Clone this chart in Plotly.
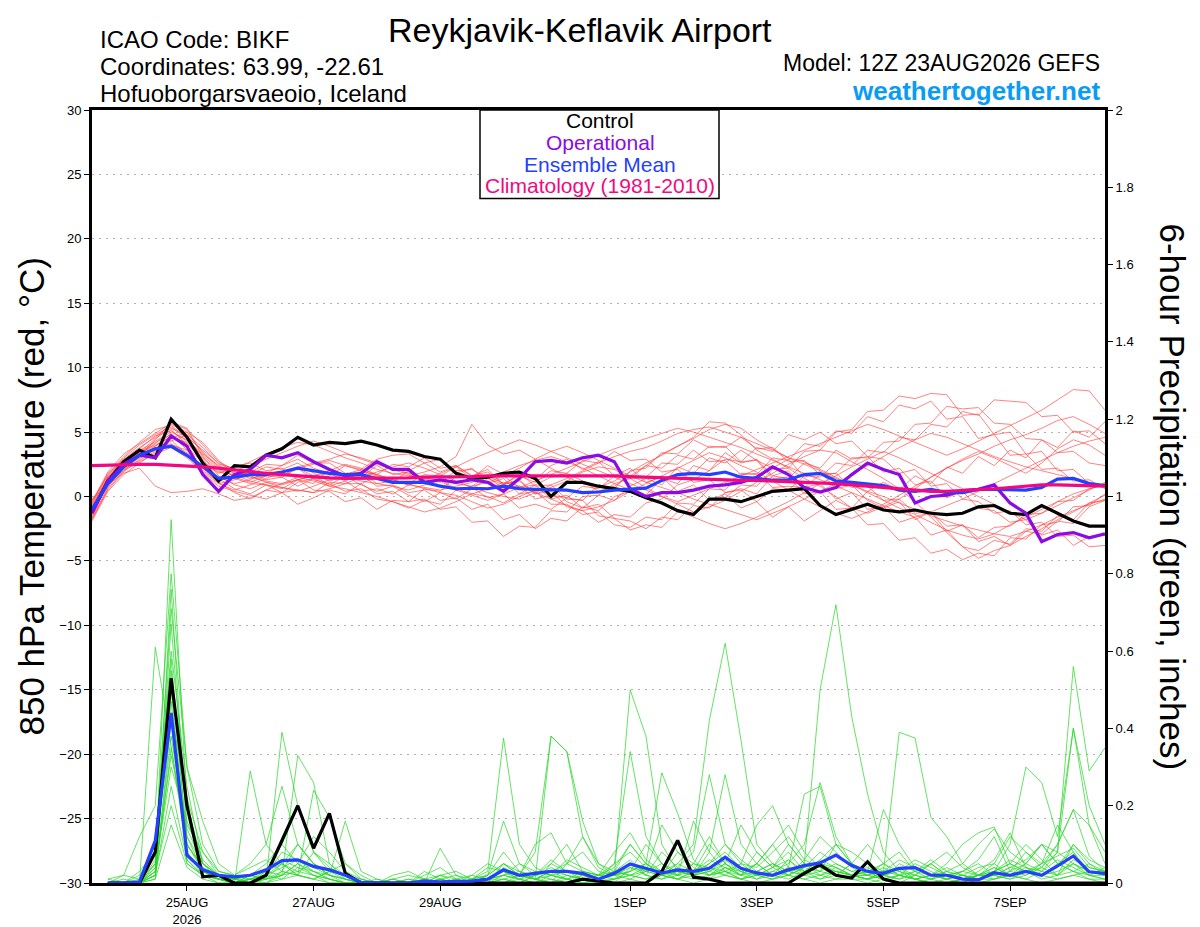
import plotly.graph_objects as go
import pandas as pd

# 6-hourly forecast times, 12Z 23 Aug 2026 -> 12Z 8 Sep 2026
times = pd.date_range("2026-08-23 12:00", periods=65, freq="6h")

tick_dates = ["2026-08-25", "2026-08-27", "2026-08-29", "2026-09-01",
              "2026-09-03", "2026-09-05", "2026-09-07"]
tick_labels = ["25AUG<br>2026", "27AUG", "29AUG", "1SEP", "3SEP", "5SEP", "7SEP"]

# 850 hPa temperature (C), f000..f384
control_temp = [-1.2, 1.2, 2.7, 3.6, 3.0, 6.0, 4.6, 2.6, 1.2, 2.4,
                2.3, 3.2, 3.7, 4.6, 4.0, 4.2, 4.1, 4.3, 4.0, 3.6,
                3.5, 3.1, 2.9, 1.8, 1.4, 1.5, 1.8, 1.9, 1.4, 0.0,
                1.1, 1.1, 0.8, 0.6, 0.4, -0.1, -0.5, -1.1, -1.4, -0.2,
                -0.2, -0.4, 0.0, 0.4, 0.5, 0.6, -0.7, -1.4, -1.0, -0.6,
                -1.05, -1.2, -1.05, -1.3, -1.4, -1.3, -0.8, -0.7, -1.3, -1.4,
                -0.7, -1.3, -1.9, -2.3, -2.3]
operational_temp = [-1.3, 1.2, 2.5, 3.2, 3.0, 4.7, 3.9, 1.7, 0.4, 1.7,
                    2.1, 3.2, 3.0, 3.4, 2.7, 2.1, 1.6, 1.8, 2.7, 2.1,
                    2.1, 1.1, 1.3, 1.1, 1.3, 1.1, 0.4, 1.4, 2.7, 2.8,
                    2.6, 3.0, 3.2, 2.7, 0.6, 0.0, 0.3, 0.3, 0.5, 0.8,
                    0.9, 1.1, 1.5, 2.3, 1.7, 0.7, 0.35, 0.7, 1.7, 2.6,
                    2.1, 1.7, -0.5, 0.0, 0.1, 0.45, 0.55, 0.9, -0.5, -1.3,
                    -3.5, -2.95, -2.8, -3.2, -2.9]
mean_temp = [-1.0, 1.0, 2.3, 3.2, 3.7, 3.9, 3.2, 2.3, 1.4, 1.5,
             1.7, 1.7, 1.9, 2.2, 2.0, 1.8, 1.7, 1.7, 1.4, 1.1,
             1.1, 1.1, 0.8, 0.6, 0.64, 0.6, 0.8, 0.6, 0.55, 0.5,
             0.5, 0.3, 0.35, 0.5, 0.6, 0.65, 1.25, 1.7, 1.8, 1.7,
             1.9, 1.5, 1.4, 1.25, 1.3, 1.7, 1.8, 1.2, 1.1, 1.0,
             0.85, 0.5, 0.4, 0.55, 0.3, 0.3, 0.55, 0.55, 0.5, 0.5,
             0.7, 1.35, 1.4, 1.0, 0.85]
clim_temp = [2.4, 2.45, 2.5, 2.5, 2.5, 2.45, 2.4, 2.3, 2.2, 2.05,
             1.9, 1.8, 1.7, 1.6, 1.5, 1.45, 1.4, 1.4, 1.4, 1.45,
             1.45, 1.5, 1.5, 1.55, 1.55, 1.6, 1.6, 1.65, 1.65, 1.65,
             1.65, 1.65, 1.6, 1.6, 1.55, 1.5, 1.45, 1.4, 1.35, 1.3,
             1.3, 1.25, 1.25, 1.2, 1.2, 1.15, 1.1, 1.0, 0.9, 0.8,
             0.7, 0.55, 0.45, 0.4, 0.4, 0.45, 0.5, 0.6, 0.7, 0.8,
             0.9, 0.9, 0.85, 0.8, 0.8]

member_temp = [
    [-1.5, 1.0, 2.4, 3.3, 4.1, 5.2, 4.0, 2.0, 1.2, 1.6, 2.0, 1.8, 2.4, 2.9, 2.2, 1.8, 1.5, 1.2, 1.0, 0.8,
     0.5, 0.9, 1.3, 0.6, 0.2, 0.0, -0.5, 0.2, 0.9, 1.5, 1.8, 1.2, 0.4, 0.8, 1.6, 2.4, 3.3, 3.9, 4.6, 5.8,
     5.7, 4.8, 3.6, 2.9, 2.2, 1.4, 0.8, 0.0, -0.9, -1.3, -0.8, -0.2, 0.6, 1.5, 2.2, 2.9, 3.5, 3.0, 2.4, 1.8,
     2.6, 3.7, 4.4, 4.0, 3.2],
    [-0.8, 1.5, 2.9, 3.8, 4.6, 5.6, 5.0, 3.4, 2.2, 1.9, 1.5, 1.2, 1.0, 1.3, 1.6, 2.0, 2.5, 2.2, 1.7, 1.3,
     1.0, 0.6, 0.3, 0.1, -0.4, -0.9, -0.6, 0.0, 0.5, 0.7, 1.2, 1.9, 2.3, 2.1, 1.4, 0.7, 0.0, -0.6, -1.2, -0.8,
     -0.3, 0.4, 1.1, 1.8, 2.5, 3.1, 3.6, 3.4, 2.7, 2.1, 1.4, 0.6, -0.4, -1.6, -2.8, -3.9, -4.8, -4.2, -3.8, -3.1,
     -2.5, -1.8, -1.2, -0.5, 0.1],
    [-1.2, 0.8, 2.2, 3.0, 3.6, 4.3, 4.8, 3.8, 2.5, 2.2, 2.7, 3.3, 3.8, 4.2, 4.0, 3.5, 3.0, 2.6, 2.1, 1.8,
     1.6, 1.9, 2.3, 3.1, 5.6, 4.0, 3.3, 3.6, 2.9, 2.2, 1.5, 1.0, 0.7, 1.2, 1.9, 2.6, 3.2, 3.9, 4.5, 5.2,
     5.6, 5.3, 4.4, 3.7, 3.0, 2.7, 2.1, 1.5, 0.9, 0.3, -0.3, -0.9, -1.4, -2.0, -2.6, -3.0, -3.3, -2.9, -2.2, -1.6,
     -1.0, -0.4, 0.2, 0.6, 1.0],
    [-0.2, 0.9, 1.8, 2.2, 0.8, 0.3, 0.4, 0.6, 0.2, -0.3, -0.1, 0.5, 1.0, 1.5, 1.2, 0.8, 0.6, 0.3, 0.0, -0.4,
     -0.8, -1.2, -0.9, -0.4, 0.2, 0.6, 1.1, 0.8, 0.3, -0.2, -0.7, -1.1, -0.8, -0.3, 0.4, 1.0, 1.6, 2.2, 2.8, 3.4,
     3.0, 2.4, 1.9, 1.2, 0.5, -0.2, -0.8, -1.3, -1.7, -1.2, -0.6, 0.1, 0.8, 1.5, 2.2, 2.8, 3.3, 3.9, 4.4, 4.8,
     5.3, 5.9, 6.2, 5.6, 4.9],
    [-1.8, 0.6, 2.0, 3.1, 4.4, 5.8, 5.3, 3.1, 1.6, 0.9, 0.6, 1.1, 0.9, 1.3, 0.5, 0.4, -0.4, -0.1, -1.0, -0.3,
     -0.4, 0.6, 0.4, 1.6, 1.4, 2.4, 1.7, 1.8, 0.8, 0.9, -0.2, -0.3, -1.5, -1.7, -2.6, -2.2, -2.4, -1.2, -1.3, -0.2,
     -0.1, 0.9, 0.8, 2.1, 2.2, 3.5, 3.6, 5.0, 5.2, 6.6, 6.7, 7.8, 7.6, 8.0, 7.9, 6.3, 6.4, 4.8, 5.0, 3.3,
     3.5, 2.0, 2.1, 1.0, 0.9],
    [-1.0, 1.3, 2.6, 3.5, 4.0, 4.6, 4.2, 2.7, 1.8, 2.3, 2.6, 2.0, 2.2, 1.3, 1.6, 0.9, 1.6, 1.5, 2.4, 1.7,
     1.9, 1.1, 1.2, 0.5, 0.7, -0.1, 0.2, -0.9, -0.6, -1.0, -0.1, -0.3, 0.9, 0.6, 2.0, 2.2, 3.4, 3.3, 4.4, 3.8,
     3.9, 2.7, 2.8, 1.4, 1.5, 0.2, 0.4, -1.0, -0.9, -2.2, -2.1, -3.4, -3.2, -4.4, -4.1, -4.9, -4.4, -4.6, -3.2, -3.3,
     -2.2, -2.0, -0.8, -0.7, 0.2],
    [-0.5, 1.8, 2.8, 3.4, 3.9, 4.9, 3.6, 2.2, 1.0, 0.5, 0.9, 1.4, 1.9, 2.3, 2.6, 2.9, 3.3, 3.0, 2.6, 2.2,
     1.8, 1.5, 1.2, 1.0, 0.8, 1.1, 1.6, 2.2, 2.9, 3.5, 3.9, 3.4, 2.8, 2.2, 1.6, 1.1, 0.7, 0.3, -0.2, -0.6,
     -1.0, -1.4, -1.8, -1.3, -0.8, -0.2, 0.4, 1.0, 1.7, 2.4, 3.1, 3.8, 4.4, 4.9, 4.6, 4.1, 3.6, 3.1, 2.7, 2.3,
     2.0, 1.7, 1.4, 1.1, 0.8],
    [-1.4, 0.9, 2.1, 2.8, 3.5, 4.5, 5.0, 4.2, 2.8, 1.7, 1.2, 0.9, 0.7, 0.5, 0.3, 0.6, 1.0, 1.5, 1.9, 2.3,
     2.6, 2.2, 1.7, 1.2, 0.7, 0.3, 0.0, -0.2, 0.3, 0.9, 1.4, 2.0, 2.6, 3.1, 3.5, 3.8, 4.3, 4.9, 5.2, 5.4,
     5.0, 4.6, 4.1, 3.6, 3.0, 2.5, 2.0, 1.4, 0.9, 0.4, 0.0, -0.5, -1.0, -1.5, -1.9, -2.3, -2.6, -2.9, -3.1, -2.7,
     -2.2, -1.6, -1.1, -0.6, -0.2],
    [-0.3, 1.6, 3.0, 4.0, 4.8, 5.4, 4.5, 3.0, 2.0, 1.4, 1.0, 0.9, 0.3, 0.5, 0.3, 1.1, 1.0, 1.0, 0.2, 0.4,
     -0.4, -0.2, -1.0, -0.8, -2.0, -1.9, -3.1, -2.3, -2.4, -1.1, -1.2, 0.0, 0.1, 1.0, 1.4, 1.5, 2.6, 2.5, 3.6, 2.7,
     2.8, 1.7, 1.8, 0.7, 0.8, 0.7, 1.7, 1.8, 3.0, 3.0, 4.2, 4.3, 5.6, 5.7, 7.0, 6.8, 6.9, 5.7, 5.6, 4.5,
     4.4, 3.4, 3.5, 2.6, 2.4],
    [-1.1, 1.2, 2.5, 3.2, 3.8, 4.1, 3.4, 2.4, 1.5, 1.0, 1.3, 1.9, 1.6, 2.2, 1.3, 1.0, 0.4, 0.6, -0.2, -0.4,
     -0.9, -0.3, -0.6, 0.5, 0.8, 1.6, 1.0, 1.2, 0.2, 0.4, -0.8, -1.1, -2.0, -1.4, -1.6, -0.5, -0.2, 0.9, 1.3, 2.0,
     2.9, 2.7, 3.8, 3.5, 4.8, 4.4, 5.0, 4.1, 4.3, 3.1, 2.9, 1.8, 2.1, 0.8, 1.0, -0.2, -0.4, -1.3, -1.1, -2.2,
     -2.0, -3.1, -3.0, -3.9, -3.8],
    [-1.6, 0.7, 2.3, 3.3, 4.3, 5.0, 4.4, 3.3, 2.4, 1.8, 1.4, 1.6, 1.9, 2.2, 2.5, 2.8, 2.4, 2.0, 1.6, 1.2,
     0.9, 0.7, 0.5, 0.8, 1.1, 1.5, 1.9, 2.4, 2.8, 3.1, 2.7, 2.2, 1.6, 1.0, 0.5, 0.0, -0.5, -1.1, -1.6, -2.1,
     -2.5, -2.1, -1.6, -1.0, -0.4, 0.3, 1.0, 1.6, 2.3, 2.9, 3.5, 3.0, 2.4, 1.8, 1.2, 0.6, 0.0, -0.6, -1.2, -1.8,
     -1.3, -0.7, -0.1, 0.5, 1.1],
    [-0.9, 1.4, 2.7, 3.6, 4.2, 4.8, 3.9, 2.6, 1.9, 1.7, 1.8, 1.3, 1.5, 0.8, 1.4, 1.6, 2.4, 2.1, 2.9, 3.2,
     3.3, 2.6, 2.9, 1.8, 2.2, 1.0, 1.4, 0.2, 0.4, -0.6, -0.6, -1.4, -1.2, -2.2, -2.4, -1.6, -1.8, -0.5, -0.6, 0.6,
     0.5, 1.8, 1.7, 3.0, 2.8, 4.1, 3.9, 5.1, 4.9, 6.2, 5.8, 7.1, 6.8, 7.4, 6.0, 6.2, 4.5, 4.8, 3.2, 3.3,
     2.1, 2.2, 1.2, 1.3, 0.6],
    [-1.3, 1.1, 2.2, 3.1, 3.7, 4.4, 3.2, 1.8, 0.8, 0.4, 0.1, -0.2, 0.3, -0.6, -0.1, 0.5, 0.2, 1.0, 1.5, 1.1,
     2.0, 2.6, 1.9, 2.4, 1.6, 2.1, 0.9, 1.3, 0.2, 0.6, -0.4, -0.9, 0.1, -0.3, 0.8, 1.4, 0.9, 2.3, 1.8, 3.0,
     2.6, 3.6, 2.8, 2.2, 2.9, 1.5, 1.9, 0.6, 0.9, -0.3, -0.9, -0.4, -1.8, -1.2, -2.7, -2.2, -3.5, -3.1, -3.8, -2.7,
     -2.9, -1.9, -2.1, -0.8, -0.3],
    [-0.6, 1.7, 3.1, 4.2, 5.2, 5.5, 4.6, 3.6, 2.6, 2.0, 2.4, 2.9, 3.4, 3.9, 4.3, 3.9, 3.4, 2.9, 2.5, 2.1,
     1.7, 1.3, 0.9, 0.5, 0.1, -0.3, 0.2, 0.7, 1.2, 1.7, 2.2, 2.7, 3.2, 3.7, 4.1, 4.5, 4.9, 5.3, 5.0, 4.6,
     4.2, 3.8, 3.3, 2.8, 2.3, 1.8, 1.3, 0.8, 0.3, -0.2, -0.7, -1.2, -1.6, -1.2, -0.7, -0.2, 0.4, 1.0, 1.6, 2.2,
     2.8, 3.4, 3.9, 4.3, 4.6],
    [-1.7, 0.5, 1.9, 2.9, 3.9, 4.7, 4.1, 2.9, 1.4, 0.6, 0.2, 0.9, 0.6, 1.3, 1.0, 2.1, 1.5, 1.7, 0.8, 0.9,
     0.3, 0.5, -0.3, -0.1, -1.0, -0.6, -1.8, -1.4, -2.5, -1.7, -1.9, -0.8, -1.1, 0.0, 0.4, 0.1, 1.4, 1.0, 2.4, 2.0,
     3.4, 2.6, 2.9, 1.6, 2.0, 0.7, 1.0, -0.2, 0.3, -1.0, -0.8, -2.0, -1.6, -3.0, -2.6, -3.9, -4.2, -3.4, -3.7, -2.5,
     -2.7, -1.5, -1.8, -0.5, -0.3],
    [-0.4, 1.9, 3.3, 4.1, 4.9, 5.7, 5.2, 4.0, 2.7, 2.1, 1.6, 1.1, 0.7, 0.4, 0.8, 1.3, 1.7, 2.1, 1.7, 1.3,
     0.9, 1.3, 1.8, 2.3, 2.9, 3.4, 3.9, 4.4, 4.0, 3.5, 3.0, 2.5, 2.0, 1.5, 1.0, 0.5, 0.0, -0.4, 0.1, 0.6,
     1.1, 1.6, 2.1, 2.6, 3.1, 3.6, 4.1, 4.6, 5.1, 5.6, 5.2, 4.7, 4.2, 3.7, 3.2, 3.7, 4.3, 4.9, 5.5, 6.1,
     6.7, 7.5, 8.3, 8.2, 6.7],
    [-1.9, 0.4, 1.7, 2.6, 3.4, 4.0, 3.6, 2.3, 1.1, 0.3, -0.2, 0.5, 0.3, 1.1, 1.4, 0.8, 1.2, 0.4, 0.6, 0.2,
     0.9, 1.4, 1.1, 2.0, 2.1, 1.4, 1.6, 0.7, 0.9, -0.2, 0.1, -0.9, -0.6, -1.7, -1.9, -2.5, -1.6, -1.8, -0.7, -0.9,
     0.3, 0.6, 0.2, 1.6, 1.4, 2.6, 2.2, 3.6, 2.9, 3.1, 1.9, 2.2, 0.9, 1.2, -0.1, 0.4, -0.9, -1.1, -2.0, -1.8,
     -3.0, -2.6, -3.8, -3.1, -3.0],
    [-1.0, 1.2, 2.5, 3.4, 4.5, 5.3, 4.7, 3.5, 2.3, 1.5, 1.1, 1.6, 1.5, 2.2, 1.6, 1.8, 1.2, 1.9, 1.7, 2.5,
     2.3, 3.0, 2.2, 2.4, 1.6, 1.9, 1.0, 1.6, 1.1, 2.0, 1.8, 2.8, 2.6, 3.5, 2.8, 2.9, 1.9, 2.1, 1.1, 1.3,
     0.3, 0.5, -0.4, 0.6, 0.5, 1.6, 1.5, 2.6, 2.4, 3.6, 3.4, 4.6, 4.4, 5.6, 5.4, 6.6, 6.3, 7.5, 7.4, 7.3,
     6.2, 6.3, 5.0, 5.1, 4.1],
    [-1.3, 0.9, 2.0, 2.7, 3.3, 3.8, 3.0, 1.9, 1.0, 1.3, 1.7, 2.3, 2.1, 2.6, 1.8, 1.2, 1.6, 0.9, 0.4, 0.8,
     0.1, -0.4, 0.3, -0.2, 0.6, 1.4, 0.9, 1.8, 1.3, 2.4, 2.9, 2.1, 2.7, 1.6, 2.2, 1.1, 1.5, 0.4, 0.9, -0.3,
     0.2, -0.9, -0.4, -1.6, -0.8, -1.9, -1.1, -0.3, -0.9, 0.4, 1.1, 0.5, 1.6, 1.0, 2.3, 1.8, 3.1, 2.4, 3.6, 3.0,
     4.4, 3.8, 5.1, 4.6, 5.8],
    [-0.7, 1.5, 2.7, 3.7, 4.7, 5.1, 4.3, 3.2, 2.1, 1.6, 1.9, 2.5, 2.4, 3.2, 2.6, 2.6, 1.8, 1.9, 1.0, 1.2,
     1.0, 1.7, 1.6, 2.3, 1.4, 1.5, 0.6, 0.8, -0.2, 0.1, -0.1, 0.8, 0.6, 1.6, 1.4, 2.4, 2.2, 3.2, 2.9, 3.9,
     3.8, 4.6, 3.7, 3.8, 2.7, 2.8, 1.7, 1.8, 0.7, 0.8, -0.3, -0.2, -1.3, -1.2, -2.3, -2.2, -3.2, -2.4, -2.3, -1.4,
     -1.3, -0.4, -0.3, 0.6, 0.9],
]

# 6-hour precipitation (inches), f006..f384
control_precip = [0, 0, 0, 0.08, 0.53, 0.2, 0.016, 0.02,
                  0, 0, 0.02, 0.11, 0.2, 0.09, 0.18, 0.025,
                  0, 0, 0, 0, 0, 0, 0, 0,
                  0, 0, 0, 0, 0, 0, 0.01, 0.005,
                  0, 0, 0, 0.03, 0.11, 0.015, 0.01, 0,
                  0, 0, 0, 0, 0.025, 0.047, 0.02, 0.013,
                  0.055, 0.01, 0, 0, 0, 0, 0, 0,
                  0, 0, 0, 0, 0, 0, 0, 0]
mean_precip = [0, 0, 0.003, 0.11, 0.44, 0.072, 0.034, 0.02,
               0.016, 0.02, 0.034, 0.058, 0.06, 0.043, 0.034, 0.02,
               0.002, 0, 0, 0, 0.005, 0.003, 0.003, 0.005,
               0.01, 0.034, 0.02, 0.025, 0.03, 0.03, 0.025, 0.01,
               0.025, 0.049, 0.038, 0.026, 0.034, 0.03, 0.038, 0.067,
               0.038, 0.026, 0.02, 0.034, 0.045, 0.052, 0.072, 0.045,
               0.03, 0.025, 0.038, 0.04, 0.02, 0.02, 0.01, 0.008,
               0.027, 0.02, 0.03, 0.02, 0.044, 0.07, 0.029, 0.025]

member_precip = [
    [0, 0, 0.01, 0.05, 0.94, 0.2, 0.05, 0.02, 0.01, 0, 0.03, 0.1, 0.05, 0.02, 0, 0,
     0, 0, 0, 0, 0.01, 0, 0, 0, 0.02, 0.08, 0.03, 0.01, 0, 0.05, 0.12, 0.04,
     0.02, 0.5, 0.38, 0.1, 0.03, 0.02, 0.01, 0.04, 0.02, 0.05, 0.1, 0.04, 0.02, 0.01, 0.03, 0.02,
     0.01, 0, 0.02, 0.01, 0, 0, 0.01, 0.02, 0.05, 0.12, 0.08, 0.04, 0.1, 0.19, 0.07, 0.03],
    [0, 0, 0, 0.61, 0.35, 0.1, 0.04, 0.01, 0, 0.02, 0.01, 0.39, 0.2, 0.08, 0.03, 0.01,
     0, 0, 0, 0, 0, 0.01, 0.02, 0.01, 0.03, 0.375, 0.1, 0.04, 0.02, 0.01, 0, 0.01,
     0.03, 0.1, 0.05, 0.285, 0.18, 0.06, 0.02, 0.03, 0.01, 0.02, 0.04, 0.08, 0.03, 0.01, 0.02, 0.05,
     0.03, 0.01, 0, 0.02, 0.05, 0.02, 0.01, 0.01, 0.02, 0.04, 0.03, 0.01, 0.02, 0.05, 0.03, 0.02],
    [0, 0.02, 0.12, 0.2, 0.8, 0.3, 0.16, 0.05, 0.02, 0.01, 0, 0.02, 0.33, 0.26, 0.05, 0.01,
     0, 0, 0.01, 0, 0, 0.02, 0.01, 0, 0, 0.05, 0.02, 0.01, 0.38, 0.34, 0.16, 0.05,
     0.03, 0.02, 0.04, 0.03, 0.05, 0.1, 0.42, 0.62, 0.37, 0.1, 0.05, 0.03, 0.02, 0.06, 0.1, 0.05,
     0.02, 0.01, 0, 0, 0.01, 0.03, 0.05, 0.1, 0.14, 0.08, 0.05, 0.1, 0.05, 0.03, 0.05, 0.02],
    [0, 0, 0, 0.02, 0.76, 0.12, 0.03, 0.01, 0, 0.29, 0.1, 0.05, 0.02, 0.24, 0.17, 0.05,
     0.01, 0, 0, 0, 0.03, 0.01, 0, 0.01, 0.02, 0.16, 0.05, 0.02, 0.06, 0.03, 0.02, 0.01,
     0.05, 0.34, 0.12, 0.05, 0.03, 0.02, 0.08, 0.28, 0.1, 0.05, 0.02, 0.04, 0.23, 0.25, 0.1, 0.05,
     0.03, 0.19, 0.1, 0.04, 0.02, 0.01, 0.02, 0.01, 0.03, 0.1, 0.3, 0.26, 0.12, 0.4, 0.15, 0.05],
    [0, 0, 0.03, 0.08, 0.71, 0.3, 0.1, 0.03, 0.02, 0.05, 0.1, 0.25, 0.1, 0.05, 0.02, 0.16,
     0.03, 0.01, 0, 0, 0, 0.09, 0.02, 0, 0.01, 0.02, 0.01, 0, 0.05, 0.1, 0.03, 0.02,
     0.01, 0.03, 0.05, 0.02, 0.01, 0.03, 0.1, 0.05, 0.15, 0.08, 0.04, 0.1, 0.05, 0.5, 0.72, 0.43,
     0.23, 0.08, 0.03, 0.01, 0.02, 0.01, 0, 0.02, 0.04, 0.02, 0.05, 0.03, 0.08, 0.56, 0.29, 0.35],
    [0, 0, 0, 0.03, 0.67, 0.15, 0.08, 0.02, 0.01, 0.02, 0.05, 0.1, 0.2, 0.08, 0.04, 0.02,
     0, 0, 0.01, 0.02, 0.01, 0, 0, 0.02, 0.05, 0.03, 0.02, 0.01, 0.03, 0.05, 0.08, 0.03,
     0.02, 0.05, 0.03, 0.02, 0.08, 0.05, 0.03, 0.02, 0.05, 0.15, 0.2, 0.1, 0.05, 0.03, 0.1, 0.08,
     0.05, 0.03, 0.39, 0.375, 0.17, 0.12, 0.05, 0.02, 0.01, 0.03, 0.05, 0.1, 0.08, 0.4, 0.2, 0.1],
    [0.01, 0.02, 0.01, 0.1, 0.6, 0.25, 0.05, 0.02, 0.01, 0, 0.02, 0.05, 0.03, 0.02, 0.01, 0,
     0, 0.01, 0, 0.01, 0, 0.02, 0.03, 0.01, 0, 0.04, 0.02, 0.08, 0.38, 0.34, 0.12, 0.05,
     0.02, 0.03, 0.1, 0.05, 0.02, 0.16, 0.08, 0.03, 0.02, 0.05, 0.1, 0.15, 0.08, 0.04, 0.02, 0.05,
     0.1, 0.05, 0.03, 0.02, 0.05, 0.08, 0.04, 0.02, 0.02, 0.01, 0.03, 0.05, 0.1, 0.19, 0.15, 0.08],
    [0, 0, 0, 0.02, 0.55, 0.1, 0.03, 0.01, 0, 0.01, 0.01, 0.02, 0.05, 0.12, 0.08, 0.03,
     0.01, 0, 0, 0, 0.01, 0, 0, 0, 0.01, 0.03, 0.01, 0, 0.02, 0.01, 0.03, 0.02,
     0.04, 0.1, 0.05, 0.02, 0.04, 0.08, 0.28, 0.1, 0.05, 0.02, 0.03, 0.05, 0.1, 0.26, 0.12, 0.05,
     0.03, 0.02, 0.04, 0.01, 0.02, 0.05, 0.1, 0.13, 0.145, 0.05, 0.03, 0.02, 0.04, 0.1, 0.05, 0.03],
    [0, 0, 0, 0.05, 0.5, 0.08, 0.02, 0.01, 0, 0.02, 0.03, 0.05, 0.02, 0.01, 0.03, 0.05,
     0.02, 0, 0, 0, 0, 0.01, 0, 0, 0, 0.01, 0, 0.02, 0.01, 0, 0.02, 0.01,
     0.01, 0.02, 0.03, 0.15, 0.08, 0.04, 0.02, 0.05, 0.03, 0.02, 0.04, 0.06, 0.02, 0.03, 0.05, 0.03,
     0.02, 0.01, 0.05, 0.03, 0.02, 0.01, 0.03, 0.06, 0.12, 0.03, 0.02, 0.05, 0.15, 0.08, 0.02, 0.01],
    [0, 0.01, 0, 0.05, 0.47, 0.05, 0.02, 0.01, 0.01, 0, 0, 0.03, 0.1, 0.05, 0.03, 0.02,
     0, 0, 0, 0, 0, 0, 0.01, 0.02, 0.01, 0.02, 0.03, 0.01, 0.02, 0.03, 0.01, 0,
     0, 0.04, 0.02, 0.01, 0.02, 0.05, 0.12, 0.05, 0.02, 0.08, 0.04, 0.02, 0.06, 0.12, 0.08, 0.04,
     0.02, 0.05, 0.08, 0.03, 0.01, 0.02, 0.01, 0.03, 0.06, 0.13, 0.04, 0.02, 0.05, 0.08, 0.03, 0.02],
    [0, 0, 0, 0.01, 0.42, 0.06, 0.02, 0, 0, 0.01, 0.02, 0.01, 0.04, 0.02, 0.01, 0,
     0, 0, 0.01, 0, 0, 0, 0, 0.01, 0.02, 0.05, 0.02, 0.01, 0.03, 0.01, 0, 0.01,
     0.03, 0.06, 0.02, 0.01, 0.03, 0.02, 0.05, 0.08, 0.04, 0.02, 0.01, 0.03, 0.05, 0.02, 0.03, 0.02,
     0.01, 0.02, 0.01, 0.03, 0.05, 0.02, 0.01, 0.02, 0.03, 0.05, 0.1, 0.06, 0.02, 0.1, 0.06, 0.04],
    [0, 0, 0, 0.03, 0.38, 0.12, 0.05, 0.02, 0.01, 0.01, 0.02, 0.08, 0.06, 0.04, 0.02, 0.01,
     0, 0, 0, 0, 0, 0.01, 0, 0, 0, 0.02, 0.05, 0.03, 0.02, 0.06, 0.04, 0.02,
     0.02, 0.03, 0.05, 0.03, 0.01, 0.02, 0.03, 0.06, 0.03, 0.01, 0.02, 0.06, 0.03, 0.05, 0.04, 0.02,
     0.03, 0.05, 0.02, 0.01, 0.02, 0.04, 0.02, 0.01, 0.02, 0.03, 0.08, 0.05, 0.07, 0.09, 0.04, 0.03],
    [0, 0, 0, 0.02, 0.35, 0.08, 0.03, 0.01, 0, 0, 0.01, 0.02, 0.03, 0.05, 0.02, 0,
     0, 0, 0, 0.01, 0, 0, 0, 0, 0, 0.01, 0.02, 0.01, 0, 0.02, 0.01, 0,
     0.01, 0.05, 0.02, 0.08, 0.04, 0.02, 0.03, 0.05, 0.02, 0.01, 0.03, 0.02, 0.01, 0.02, 0.04, 0.02,
     0.01, 0.03, 0.02, 0.05, 0.03, 0.01, 0.02, 0.01, 0.03, 0.06, 0.04, 0.02, 0.03, 0.05, 0.02, 0.02],
    [0.01, 0, 0, 0.04, 0.3, 0.16, 0.06, 0.02, 0.01, 0.02, 0.01, 0.05, 0.1, 0.05, 0.02, 0.01,
     0, 0, 0, 0, 0.01, 0.02, 0, 0, 0.01, 0.02, 0.01, 0.03, 0.02, 0.01, 0.02, 0.01,
     0.02, 0.01, 0.03, 0.02, 0.05, 0.03, 0.02, 0.04, 0.02, 0.03, 0.05, 0.03, 0.02, 0.05, 0.03, 0.02,
     0.02, 0.03, 0.06, 0.04, 0.02, 0.03, 0.01, 0.02, 0.04, 0.02, 0.01, 0.03, 0.06, 0.04, 0.02, 0.01],
    [0, 0, 0, 0.02, 0.25, 0.06, 0.02, 0.01, 0, 0.01, 0.03, 0.02, 0.05, 0.03, 0.01, 0,
     0, 0, 0, 0, 0, 0, 0.01, 0, 0, 0, 0.02, 0.01, 0, 0.01, 0, 0,
     0.01, 0.02, 0.01, 0.03, 0.02, 0.01, 0.02, 0.03, 0.01, 0.02, 0.01, 0.02, 0.04, 0.03, 0.02, 0.01,
     0.01, 0.02, 0.01, 0.02, 0.01, 0, 0.01, 0.02, 0.02, 0.01, 0.02, 0.04, 0.02, 0.03, 0.01, 0.01],
    [0, 0, 0, 0.03, 0.2, 0.05, 0.02, 0.01, 0, 0, 0.01, 0.03, 0.02, 0.01, 0.03, 0.02,
     0.01, 0, 0, 0, 0, 0, 0, 0, 0.01, 0.01, 0, 0.02, 0.03, 0.02, 0.01, 0.02,
     0.03, 0.02, 0.01, 0.02, 0.03, 0.02, 0.04, 0.02, 0.01, 0.03, 0.02, 0.01, 0.03, 0.02, 0.01, 0.02,
     0.03, 0.01, 0.02, 0.01, 0, 0.01, 0.02, 0.01, 0.01, 0.02, 0.03, 0.02, 0.01, 0.02, 0.03, 0.02],
    [0, 0, 0.02, 0.08, 0.58, 0.1, 0.04, 0.02, 0.01, 0.02, 0.03, 0.06, 0.04, 0.03, 0.02, 0.01,
     0, 0, 0.02, 0.03, 0.01, 0, 0, 0.01, 0.04, 0.03, 0.02, 0.1, 0.13, 0.05, 0.03, 0.02,
     0.05, 0.08, 0.04, 0.02, 0.01, 0.03, 0.05, 0.1, 0.06, 0.03, 0.05, 0.02, 0.04, 0.08, 0.05, 0.03,
     0.04, 0.02, 0.03, 0.06, 0.04, 0.02, 0.03, 0.05, 0.02, 0.04, 0.06, 0.1, 0.05, 0.03, 0.02, 0.04],
    [0, 0, 0, 0.06, 0.44, 0.22, 0.08, 0.03, 0.02, 0.04, 0.06, 0.03, 0.02, 0.08, 0.05, 0.02,
     0, 0, 0, 0, 0.02, 0.04, 0.01, 0, 0.02, 0.05, 0.03, 0.02, 0.04, 0.02, 0.01, 0.02,
     0.08, 0.13, 0.06, 0.03, 0.02, 0.05, 0.04, 0.03, 0.05, 0.04, 0.08, 0.12, 0.06, 0.04, 0.03, 0.02,
     0.02, 0.04, 0.02, 0.03, 0.06, 0.03, 0.02, 0.04, 0.05, 0.02, 0.04, 0.03, 0.02, 0.06, 0.04, 0.03],
    [0, 0, 0, 0.04, 0.33, 0.14, 0.05, 0.01, 0, 0.01, 0.02, 0.04, 0.06, 0.03, 0.01, 0,
     0, 0, 0, 0, 0, 0.01, 0, 0, 0.01, 0.03, 0.01, 0.02, 0.05, 0.03, 0.02, 0.01,
     0.02, 0.04, 0.03, 0.05, 0.02, 0.03, 0.06, 0.04, 0.03, 0.05, 0.02, 0.04, 0.03, 0.06, 0.04, 0.02,
     0.01, 0.03, 0.04, 0.02, 0.01, 0.02, 0.03, 0.02, 0.03, 0.05, 0.03, 0.04, 0.08, 0.05, 0.03, 0.02],
    [0, 0, 0, 0.01, 0.15, 0.04, 0.01, 0, 0, 0, 0, 0.01, 0.02, 0.01, 0, 0,
     0, 0, 0, 0, 0, 0, 0, 0, 0, 0, 0.01, 0, 0.01, 0, 0, 0,
     0, 0.01, 0, 0.02, 0.01, 0, 0.01, 0.02, 0.01, 0, 0.01, 0.02, 0.01, 0, 0.01, 0.01,
     0, 0.01, 0.02, 0.01, 0, 0, 0.01, 0, 0.01, 0.02, 0.01, 0, 0.01, 0.02, 0.01, 0],
]

FONT = "Liberation Sans"
C_CONTROL = "black"
C_OPER = "#8a0be3"
C_MEAN = "#2340ff"
C_CLIM = "#f2097f"

fig = go.Figure()

# precipitation ensemble (green, right axis)
for m in member_precip:
    fig.add_trace(go.Scatter(x=times[1:1 + len(m)], y=m, yaxis="y2", mode="lines",
                             line=dict(color="rgba(40,215,40,0.9)", width=0.8),
                             hoverinfo="skip", showlegend=False))
fig.add_trace(go.Scatter(x=times[1:1 + len(control_precip)], y=control_precip, yaxis="y2",
                         mode="lines", line=dict(color=C_CONTROL, width=3.2), showlegend=False))
fig.add_trace(go.Scatter(x=times[1:1 + len(mean_precip)], y=mean_precip, yaxis="y2",
                         mode="lines", line=dict(color=C_MEAN, width=3.2), showlegend=False))

# temperature ensemble (red, left axis)
for m in member_temp:
    fig.add_trace(go.Scatter(x=times[:len(m)], y=m, mode="lines",
                             line=dict(color="rgba(255,60,60,0.8)", width=0.8),
                             hoverinfo="skip", showlegend=False))
fig.add_trace(go.Scatter(x=times[:len(control_temp)], y=control_temp, mode="lines",
                         line=dict(color=C_CONTROL, width=3.2), showlegend=False))
fig.add_trace(go.Scatter(x=times[:len(operational_temp)], y=operational_temp, mode="lines",
                         line=dict(color=C_OPER, width=3.2), showlegend=False))
fig.add_trace(go.Scatter(x=times[:len(mean_temp)], y=mean_temp, mode="lines",
                         line=dict(color=C_MEAN, width=3.2), showlegend=False))
fig.add_trace(go.Scatter(x=times[:len(clim_temp)], y=clim_temp, mode="lines",
                         line=dict(color=C_CLIM, width=3.2), showlegend=False))

# plot area on the page in pixels: x 92..1105, y 110..883
def px(x):
    return (x - 92) / 1013.0

def py(y):
    return (883 - y) / 773.0

notes = [
    ("ICAO Code: BIKF", 98, 40, "left", 24, "black", False),
    ("Coordinates: 63.99, -22.61", 98, 67, "left", 24, "black", False),
    ("Hofuoborgarsvaeoio, Iceland", 98, 94, "left", 24, "black", False),
    ("Model: 12Z 23AUG2026 GEFS", 1102, 62.5, "right", 23, "black", False),
    ("weathertogether.net", 1102, 91, "right", 26, "#0a9cf5", True),
    ("Control", 600, 121, "center", 21, C_CONTROL, False),
    ("Operational", 600, 142.5, "center", 21, C_OPER, False),
    ("Ensemble Mean", 600, 164, "center", 21, C_MEAN, False),
    ("Climatology (1981-2010)", 600, 185.5, "center", 21, C_CLIM, False),
]
annotations = [dict(text="Reykjavik-Keflavik Airport", x=px(580), y=py(9),
                    xref="paper", yref="paper", xanchor="center", yanchor="top",
                    showarrow=False, font=dict(family=FONT, size=34, color="black"))]
for text, x, y, anchor, size, color, bold in notes:
    annotations.append(dict(
        text="<b>%s</b>" % text if bold else text,
        x=px(x), y=py(y), xref="paper", yref="paper",
        xanchor=anchor, yanchor="middle", showarrow=False,
        font=dict(family=FONT, size=size, color=color)))

annotations.append(dict(text="850 hPa Temperature (red, °C)", x=px(31), y=0.5,
                        xref="paper", yref="paper", textangle=-90, showarrow=False,
                        xanchor="center", yanchor="middle",
                        font=dict(family=FONT, size=35, color="black")))
annotations.append(dict(text="6-hour Precipitation (green, inches)", x=px(1172), y=0.5,
                        xref="paper", yref="paper", textangle=90, showarrow=False,
                        xanchor="center", yanchor="middle",
                        font=dict(family=FONT, size=35, color="black")))

# the page body adds an 8px margin, so the figure starts at (8, 8)
fig.update_layout(
    width=1192, height=919,
    margin=dict(l=84, r=95, t=102, b=44),
    paper_bgcolor="white", plot_bgcolor="white",
    font=dict(family=FONT, color="black"),
    showlegend=False,
    annotations=annotations,
    shapes=[dict(type="rect", xref="paper", yref="paper",
                 x0=px(480), x1=px(719), y0=py(198.5), y1=1.0,
                 line=dict(color="black", width=1.5), fillcolor="white", layer="above")],
    xaxis=dict(
        type="date", automargin=False,
        range=["2026-08-23 12:00", "2026-09-08 12:00"],
        tickvals=tick_dates, ticktext=tick_labels,
        ticks="outside", ticklen=5, tickwidth=1, tickcolor="black",
        tickfont=dict(family=FONT, size=13),
        showline=True, linewidth=3, linecolor="black", mirror=True,
        showgrid=False, zeroline=False,
    ),
    yaxis=dict(
        range=[-30, 30], tickvals=list(range(-30, 31, 5)), automargin=False,
        ticks="outside", ticklen=5, tickwidth=1, tickcolor="black",
        tickfont=dict(family=FONT, size=13),
        showline=True, linewidth=3, linecolor="black",
        showgrid=True, gridcolor="#b0b0b0", gridwidth=1, griddash="2px,5px",
        zeroline=False,
    ),
    yaxis2=dict(
        range=[0, 2], overlaying="y", side="right", automargin=False,
        tickvals=[0, 0.2, 0.4, 0.6, 0.8, 1, 1.2, 1.4, 1.6, 1.8, 2],
        ticktext=["0", "0.2", "0.4", "0.6", "0.8", "1", "1.2", "1.4", "1.6", "1.8", "2"],
        ticks="outside", ticklen=5, tickwidth=1, tickcolor="black",
        tickfont=dict(family=FONT, size=13),
        showline=True, linewidth=3, linecolor="black",
        showgrid=False, zeroline=False,
    ),
)

fig.write_html("out.html")
